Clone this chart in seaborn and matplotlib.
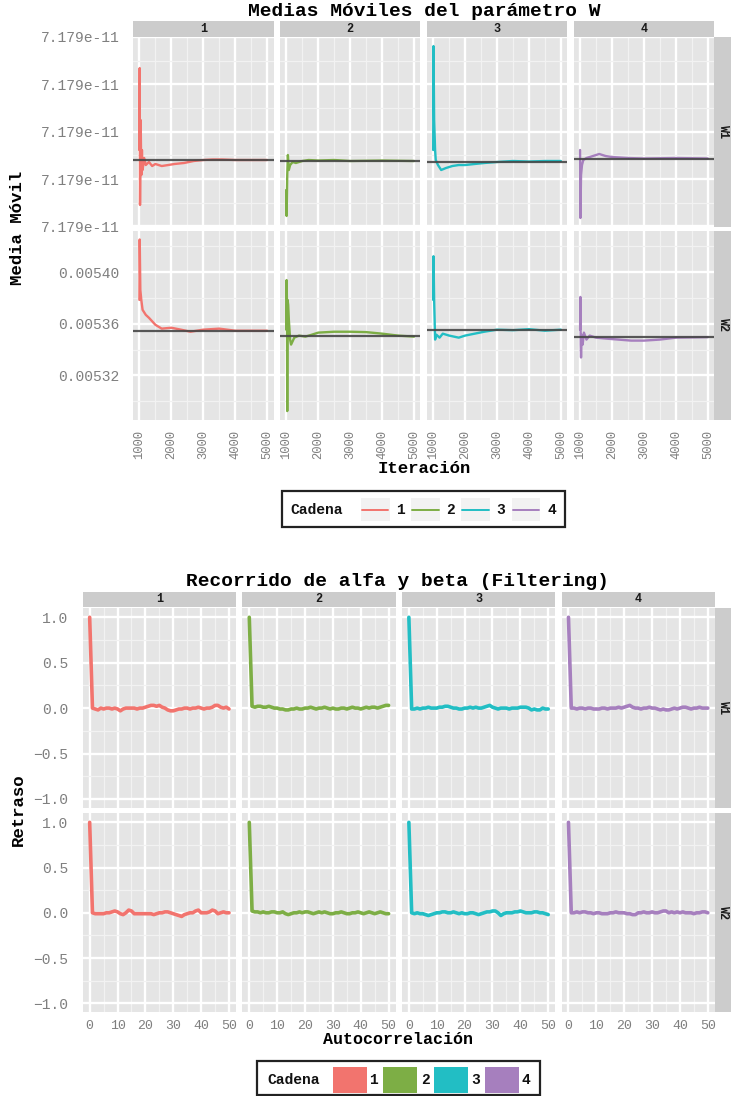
import matplotlib
matplotlib.use("Agg")
import matplotlib.pyplot as plt
import seaborn as sns
import numpy as np
import pandas as pd
from matplotlib.patches import Rectangle
from matplotlib.lines import Line2D

# ---------------- data ----------------
CHAINS = ["1", "2", "3", "4"]
PARAMS = ["W1", "W2"]
COLORS = ["#F2746E", "#7DAE45", "#22BEC4", "#A67FBE"]

TITLE_TOP = "Medias Móviles del parámetro W"
TITLE_BOT = "Recorrido de alfa y beta (Filtering)"

ITER_TICKS = [1000, 2000, 3000, 4000, 5000]
W1_TICKS = [0, 1, 2, 3, 4]
W1_TICK_LABELS = ["7.179e-11"] * 5
W2_TICKS = [0.00532, 0.00536, 0.00540]
W2_TICK_LABELS = ["0.00532", "0.00536", "0.00540"]

# moving averages, W1 (expressed in units of the W1 tick step)
it_w1_c1 = [1000, 1010, 1020, 1040, 1060, 1080, 1100, 1150, 1200, 1300, 1400, 1500, 1700, 1900, 2100, 2400, 2700, 3000, 3300, 3600, 4000, 5000]
mm_w1_c1 = [1.614, 3.344, 0.454, 2.247, 1.086, 1.614, 1.192, 1.445, 1.297, 1.361, 1.276, 1.319, 1.276, 1.297, 1.319, 1.340, 1.382, 1.403, 1.414, 1.414, 1.403, 1.403]
it_w1_c2 = [1000, 1010, 1030, 1050, 1080, 1120, 1200, 1300, 1500, 1700, 2000, 2500, 3000, 4000, 5000]
mm_w1_c2 = [0.770, 0.222, 1.086, 1.508, 1.192, 1.297, 1.361, 1.340, 1.382, 1.403, 1.392, 1.403, 1.382, 1.392, 1.382]
it_w1_c3 = [1000, 1010, 1030, 1060, 1080, 1150, 1250, 1400, 1600, 1800, 2000, 2300, 2600, 3000, 3500, 4000, 4500, 5000]
mm_w1_c3 = [1.614, 3.808, 2.247, 1.614, 1.403, 1.297, 1.192, 1.234, 1.276, 1.297, 1.297, 1.319, 1.340, 1.361, 1.382, 1.371, 1.382, 1.382]
it_w1_c4 = [1000, 1010, 1030, 1060, 1100, 1200, 1400, 1600, 1800, 2000, 2500, 3000, 4000, 5000]
mm_w1_c4 = [1.614, 0.179, 1.086, 1.297, 1.403, 1.445, 1.487, 1.530, 1.487, 1.466, 1.445, 1.435, 1.445, 1.435]
mean_w1 = [1.403, 1.382, 1.361, 1.424]

# moving averages, W2
it_w2_c1 = [1000, 1010, 1030, 1060, 1100, 1200, 1300, 1500, 1700, 2000, 2300, 2600, 3000, 3500, 4000, 5000]
mm_w2_c1 = [0.0053785, 0.0054254, 0.0053862, 0.0053785, 0.0053708, 0.0053669, 0.0053646, 0.0053592, 0.0053562, 0.0053569, 0.0053554, 0.0053538, 0.0053554, 0.0053562, 0.0053546, 0.0053546]
it_w2_c2 = [1000, 1010, 1020, 1030, 1040, 1060, 1080, 1120, 1150, 1250, 1400, 1600, 1800, 2000, 2500, 3000, 3500, 4000, 4500, 5000]
mm_w2_c2 = [0.0053554, 0.0053939, 0.0053785, 0.0052922, 0.0053785, 0.0053746, 0.0053631, 0.0053477, 0.0053438, 0.0053492, 0.0053508, 0.0053500, 0.0053515, 0.0053531, 0.0053538, 0.0053538, 0.0053535, 0.0053523, 0.0053508, 0.0053500]
it_w2_c3 = [1000, 1010, 1030, 1060, 1100, 1200, 1300, 1500, 1800, 2000, 2300, 2600, 3000, 3500, 4000, 4500, 5000]
mm_w2_c3 = [0.0053785, 0.0054124, 0.0053785, 0.0053477, 0.0053515, 0.0053492, 0.0053523, 0.0053508, 0.0053492, 0.0053508, 0.0053523, 0.0053538, 0.0053554, 0.0053550, 0.0053558, 0.0053546, 0.0053554]
it_w2_c4 = [1000, 1010, 1020, 1030, 1050, 1080, 1120, 1200, 1300, 1500, 1800, 2200, 2600, 3000, 3500, 4000, 5000]
mm_w2_c4 = [0.0053554, 0.0053808, 0.0053438, 0.0053338, 0.0053515, 0.0053438, 0.0053531, 0.0053477, 0.0053508, 0.0053492, 0.0053485, 0.0053477, 0.0053469, 0.0053469, 0.0053477, 0.0053492, 0.0053496]
mean_w2 = [0.0053546, 0.0053502, 0.0053554, 0.0053498]

# autocorrelations (lags 0..50)
LAG_TICKS = [0, 10, 20, 30, 40, 50]
ACF_TICKS = [-1.0, -0.5, 0.0, 0.5, 1.0]
ACF_TICK_LABELS = ["\u22121.0", "\u22120.5", "0.0", "0.5", "1.0"]

acf_w1_c1 = [1.00,
    0.00, -0.01, -0.02, 0.00, -0.01, 0.00, 0.00, -0.01, 0.00, -0.01,
    -0.03, -0.01, 0.00, 0.00, 0.00, 0.00, -0.01, 0.00, 0.00, 0.01,
    0.02, 0.03, 0.03, 0.02, 0.03, 0.01, 0.00, -0.02, -0.03, -0.03,
    -0.02, -0.01, -0.01, 0.00, 0.00, -0.01, 0.00, 0.00, 0.01, 0.00,
    -0.01, 0.00, 0.00, 0.01, 0.03, 0.03, 0.01, 0.00, 0.01, -0.01]
acf_w1_c2 = [1.00,
    0.02, 0.01, 0.02, 0.02, 0.01, 0.01, 0.02, 0.01, 0.00, 0.00,
    -0.01, -0.01, -0.02, -0.02, -0.01, -0.01, 0.00, -0.01, -0.01, 0.00,
    0.00, 0.01, 0.00, -0.01, 0.00, 0.00, 0.01, 0.00, -0.01, 0.00,
    -0.01, -0.01, 0.00, 0.00, -0.01, 0.00, 0.01, 0.00, 0.00, -0.01,
    0.00, 0.01, 0.00, 0.01, 0.01, 0.00, 0.01, 0.02, 0.03, 0.03]
acf_w1_c3 = [1.00,
    -0.01, -0.01, 0.00, -0.01, 0.00, 0.00, 0.01, 0.00, 0.00, 0.00,
    0.01, 0.01, 0.02, 0.02, 0.01, 0.00, 0.00, -0.01, -0.01, 0.00,
    0.00, 0.01, 0.00, 0.01, 0.00, 0.00, 0.01, 0.02, 0.03, 0.01,
    0.00, -0.01, 0.00, 0.00, 0.00, -0.01, 0.00, 0.00, 0.00, 0.01,
    0.01, 0.01, 0.00, -0.02, -0.01, -0.02, -0.02, 0.00, -0.01, -0.01]
acf_w1_c4 = [1.00,
    0.00, 0.00, -0.01, 0.00, 0.00, -0.01, 0.00, 0.00, -0.01, -0.01,
    -0.01, 0.00, 0.00, -0.01, 0.00, 0.00, 0.00, 0.01, 0.00, 0.01,
    0.02, 0.03, 0.01, 0.00, 0.00, -0.01, 0.00, 0.00, 0.01, 0.00,
    0.00, -0.01, -0.02, -0.01, -0.02, -0.02, -0.01, 0.00, -0.01, 0.00,
    0.01, 0.01, 0.00, -0.01, 0.00, 0.00, 0.01, 0.00, 0.00, 0.00]
acf_w2_c1 = [1.00,
    0.00, -0.01, -0.01, -0.01, -0.01, 0.00, 0.00, 0.01, 0.02, 0.01,
    -0.01, -0.02, 0.00, 0.03, 0.02, -0.01, -0.01, -0.01, -0.01, -0.01,
    -0.01, -0.01, -0.02, -0.01, 0.00, 0.00, 0.01, 0.01, 0.00, -0.01,
    -0.02, -0.03, -0.04, -0.02, -0.01, 0.00, 0.00, 0.02, 0.03, 0.00,
    0.00, 0.00, 0.01, 0.03, 0.02, -0.01, 0.00, 0.01, 0.00, 0.00]
acf_w2_c2 = [1.00,
    0.02, 0.01, 0.01, 0.00, 0.01, 0.00, 0.00, 0.01, 0.01, 0.00,
    0.00, 0.01, -0.01, -0.02, -0.01, 0.00, 0.00, 0.01, 0.00, 0.01,
    0.01, 0.00, -0.01, 0.00, 0.01, 0.00, 0.01, 0.00, -0.01, -0.01,
    0.00, 0.00, 0.01, 0.00, -0.01, -0.01, 0.00, 0.00, 0.01, 0.00,
    -0.01, 0.00, 0.01, 0.00, -0.01, 0.00, 0.01, 0.00, -0.01, -0.01]
acf_w2_c3 = [1.00,
    0.00, -0.01, 0.00, -0.01, -0.01, -0.02, -0.03, -0.02, -0.01, 0.00,
    0.00, 0.01, 0.01, 0.00, 0.00, 0.01, 0.00, -0.01, 0.00, -0.01,
    -0.01, 0.00, 0.00, -0.01, -0.02, -0.01, 0.00, 0.01, 0.01, 0.02,
    0.02, 0.00, -0.03, -0.01, 0.00, 0.00, 0.00, 0.01, 0.01, 0.02,
    0.01, 0.00, 0.00, 0.00, 0.01, 0.01, 0.00, 0.00, -0.01, -0.02]
acf_w2_c4 = [1.00,
    0.00, 0.00, 0.01, 0.00, 0.01, 0.01, 0.00, 0.00, -0.01, 0.00,
    0.00, -0.01, -0.01, -0.01, 0.00, 0.00, 0.01, 0.00, 0.00, 0.00,
    -0.01, -0.01, -0.02, -0.02, 0.00, 0.00, 0.01, 0.00, 0.00, 0.01,
    0.00, 0.00, 0.01, 0.02, 0.02, 0.00, 0.01, 0.00, 0.01, 0.00,
    0.01, 0.00, 0.00, 0.00, -0.01, 0.00, 0.00, 0.01, 0.01, 0.00]

mm_iters = {("W1", 0): it_w1_c1, ("W1", 1): it_w1_c2, ("W1", 2): it_w1_c3, ("W1", 3): it_w1_c4,
            ("W2", 0): it_w2_c1, ("W2", 1): it_w2_c2, ("W2", 2): it_w2_c3, ("W2", 3): it_w2_c4}
mm_vals = {("W1", 0): mm_w1_c1, ("W1", 1): mm_w1_c2, ("W1", 2): mm_w1_c3, ("W1", 3): mm_w1_c4,
           ("W2", 0): mm_w2_c1, ("W2", 1): mm_w2_c2, ("W2", 2): mm_w2_c3, ("W2", 3): mm_w2_c4}
mm_means = {"W1": mean_w1, "W2": mean_w2}
acf_vals = {("W1", 0): acf_w1_c1, ("W1", 1): acf_w1_c2, ("W1", 2): acf_w1_c3, ("W1", 3): acf_w1_c4,
            ("W2", 0): acf_w2_c1, ("W2", 1): acf_w2_c2, ("W2", 2): acf_w2_c3, ("W2", 3): acf_w2_c4}

rows = []
for (p, c), its in mm_iters.items():
    for x, y in zip(its, mm_vals[(p, c)]):
        rows.append({"param": p, "chain": CHAINS[c], "Iteracion": x, "media": y})
df_mm = pd.DataFrame(rows)
rows = []
for (p, c), vals in acf_vals.items():
    for lag, y in enumerate(vals):
        rows.append({"param": p, "chain": CHAINS[c], "lag": lag, "acf": y})
df_acf = pd.DataFrame(rows)

# ---------------- style ----------------
sns.set_theme(style="white")
plt.rcParams["font.family"] = ["Liberation Mono", "DejaVu Sans Mono"]
plt.rcParams["axes.unicode_minus"] = True

W, H = 731, 1096
fig = plt.figure(figsize=(W / 100, H / 100), dpi=100)
fig.patch.set_facecolor("white")

TICK_C = "#6A6A6A"
LAB_C = "#7F7F7F"
PANEL_BG = "#E5E5E5"
STRIP_BG = "#CCCCCC"


def fbox(l, t, r, b):
    return [l / W, 1 - b / H, (r - l) / W, (b - t) / H]


def style_panel(ax, xmaj, xmin, ymaj, ymin):
    ax.set_facecolor(PANEL_BG)
    for s in ax.spines.values():
        s.set_visible(False)
    ax.set_xticks(xmaj)
    ax.set_xticks(xmin, minor=True)
    ax.set_yticks(ymaj)
    ax.set_yticks(ymin, minor=True)
    ax.grid(which="major", color="white", lw=1.7)
    ax.grid(which="minor", color="#F2F2F2", lw=0.9)
    ax.set_axisbelow(True)
    ax.tick_params(which="minor", length=0)
    ax.set_xlabel("")
    ax.set_ylabel("")


def strip(l, t, r, b, text, rot=0):
    sa = fig.add_axes(fbox(l, t, r, b))
    sa.set_facecolor(STRIP_BG)
    sa.set_xticks([])
    sa.set_yticks([])
    for s in sa.spines.values():
        s.set_visible(False)
    sa.text(0.5, 0.5, text, transform=sa.transAxes, ha="center", va="center",
            rotation=rot, fontsize=8.5, fontweight="bold", color="#1A1A1A")


def ftext(x, y, s, **kw):
    fig.text(x / W, 1 - y / H, s, **kw)


def frect(l, t, r, b, **kw):
    fig.add_artist(Rectangle((l / W, 1 - b / H), (r - l) / W, (b - t) / H,
                             transform=fig.transFigure, **kw))


def fline(x0, x1, y, **kw):
    fig.add_artist(Line2D([x0 / W, x1 / W], [1 - y / H, 1 - y / H],
                          transform=fig.transFigure, **kw))


# ---------------- top plot: moving averages ----------------
top_cols = [133.0, 279.9, 426.8, 573.7]
top_w = 140.5
top_rows = [(37.0, 226.7), (231.0, 419.7)]

for r, p in enumerate(PARAMS):
    t, b = top_rows[r]
    for c in range(4):
        l = top_cols[c]
        ax = fig.add_axes(fbox(l, t, l + top_w, b))
        sub = df_mm[(df_mm["param"] == p) & (df_mm["chain"] == CHAINS[c])]
        sns.lineplot(data=sub, x="Iteracion", y="media", ax=ax, color=COLORS[c],
                     linewidth=1.7, estimator=None, sort=False, legend=False)
        ax.axhline(mm_means[p][c], color="#474747", lw=1.6, alpha=0.9, zorder=5)
        ax.set_xlim(800, 5200)
        if p == "W1":
            ax.set_ylim(-0.005, 4.0)
            style_panel(ax, ITER_TICKS, [1500, 2500, 3500, 4500], W1_TICKS,
                        [0.5, 1.5, 2.5, 3.5])
            ax.set_yticklabels(W1_TICK_LABELS)
        else:
            ax.set_ylim(0.0052855, 0.005432)
            style_panel(ax, ITER_TICKS, [1500, 2500, 3500, 4500], W2_TICKS,
                        [0.00530, 0.00534, 0.00538, 0.00542])
            ax.set_yticklabels(W2_TICK_LABELS)
        ax.set_xticklabels([str(v) for v in ITER_TICKS], rotation=90)
        ax.tick_params(axis="y", which="major", length=6.5, width=1.6, color=TICK_C,
                       labelcolor=LAB_C, labelsize=10.5, pad=3, direction="out")
        ax.tick_params(axis="x", which="major", length=4.2, width=1.6, color=TICK_C,
                       labelcolor=LAB_C, labelsize=8.7, pad=3.2, direction="out")
        if c != 0:
            ax.tick_params(axis="y", left=False, labelleft=False)
        if r != 1:
            ax.tick_params(axis="x", bottom=False, labelbottom=False)
        if r == 0:
            strip(l, 21.0, l + top_w, 36.7, CHAINS[c])
    strip(714.2, t, 731, b, p, rot=270)

ftext(424, 11.5, TITLE_TOP, ha="center", va="center", fontsize=14, fontweight="bold", color="black")
ftext(424, 468.5, "Iteración", ha="center", va="center", fontsize=12.5, fontweight="bold", color="black")
ftext(18, 228, "Media Móvil", ha="center", va="center", rotation=90, fontsize=12.5,
      fontweight="bold", color="black")

# legend (top) - line keys
frect(282, 491, 565, 527.5, facecolor="white", edgecolor="#222222", lw=1.6)
ftext(290.5, 510, "Cadena", ha="left", va="center", fontsize=10.5, fontweight="bold", color="#111111")
key_l = [361, 411, 461, 511.5]
lab_x = [400, 450.5, 500.5, 551.5]
for i in range(4):
    frect(key_l[i], 498, key_l[i] + 28.5, 521, facecolor="#F2F2F2", edgecolor="none")
    fline(key_l[i] + 1, key_l[i] + 27.5, 510, color=COLORS[i], lw=1.4)
    ftext(lab_x[i], 510, CHAINS[i], ha="center", va="center", fontsize=10.5,
          fontweight="bold", color="#111111")

# ---------------- bottom plot: autocorrelation ----------------
bot_cols = [82.7, 242.3, 401.9, 561.5]
bot_w = 153.3
bot_rows = [(608.2, 808.0), (813.3, 1012.3)]

for r, p in enumerate(PARAMS):
    t, b = bot_rows[r]
    for c in range(4):
        l = bot_cols[c]
        ax = fig.add_axes(fbox(l, t, l + bot_w, b))
        sub = df_acf[(df_acf["param"] == p) & (df_acf["chain"] == CHAINS[c])]
        sns.lineplot(data=sub, x="lag", y="acf", ax=ax, color=COLORS[c],
                     linewidth=2.6, estimator=None, sort=False, legend=False)
        ax.set_xlim(-2.5, 52.5)
        ax.set_ylim(-1.1, 1.1)
        style_panel(ax, LAG_TICKS, [5, 15, 25, 35, 45], ACF_TICKS,
                    [-0.75, -0.25, 0.25, 0.75])
        ax.set_yticklabels(ACF_TICK_LABELS)
        ax.set_xticklabels([str(v) for v in LAG_TICKS])
        ax.tick_params(axis="y", which="major", length=6.5, width=1.6, color=TICK_C,
                       labelcolor=LAB_C, labelsize=10.5, pad=4, direction="out")
        ax.tick_params(axis="x", which="major", length=5.5, width=1.6, color=TICK_C,
                       labelcolor=LAB_C, labelsize=9.5, pad=0.3, direction="out")
        if c != 0:
            ax.tick_params(axis="y", left=False, labelleft=False)
        if r != 1:
            ax.tick_params(axis="x", bottom=False, labelbottom=False)
        if r == 0:
            strip(l, 591.7, l + bot_w, 607.3, CHAINS[c])
    strip(714.8, t, 731, b, p, rot=270)

ftext(398, 581.5, TITLE_BOT, ha="center", va="center", fontsize=14, fontweight="bold", color="black")
ftext(398, 1040, "Autocorrelación", ha="center", va="center", fontsize=12, fontweight="bold", color="black")
ftext(18, 810, "Retraso", ha="center", va="center", rotation=90, fontsize=12.5,
      fontweight="bold", color="black")

# legend (bottom) - filled keys
frect(257, 1061, 540, 1095, facecolor="white", edgecolor="#222222", lw=1.6)
ftext(267, 1080, "Cadena", ha="left", va="center", fontsize=10.5, fontweight="bold", color="#111111")
sq_l = [333, 383.3, 434.3, 485]
sq_lab = [373.3, 425, 475.5, 526]
for i in range(4):
    frect(sq_l[i], 1066.7, sq_l[i] + 34, 1093.3, facecolor=COLORS[i], edgecolor="none")
    ftext(sq_lab[i], 1080, CHAINS[i], ha="center", va="center", fontsize=10.5,
          fontweight="bold", color="#111111")

fig.savefig("out.png", dpi=100, facecolor="white")
